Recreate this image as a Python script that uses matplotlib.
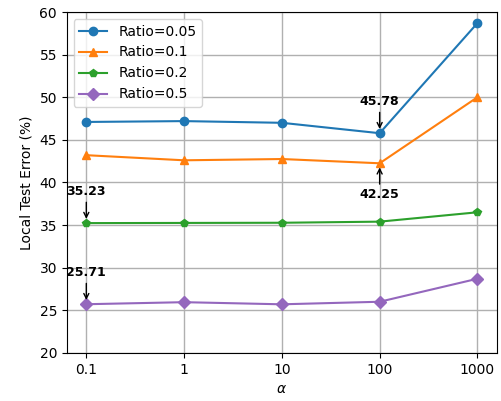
import matplotlib
matplotlib.use("Agg")
import matplotlib.pyplot as plt

alphas = [0.1, 1, 10, 100, 1000]
tick_labels = ["0.1", "1", "10", "100", "1000"]
r005 = [47.1, 47.2, 47.0, 45.78, 58.7]
r01 = [43.2, 42.6, 42.75, 42.25, 50.0]
r02 = [35.23, 35.25, 35.27, 35.4, 36.5]
r05 = [25.71, 25.95, 25.7, 26.0, 28.7]

fig, ax = plt.subplots(figsize=(5.02, 4.01), dpi=100)
ax.plot(alphas, r005, marker='o', color='#1f77b4', label='Ratio=0.05')
ax.plot(alphas, r01, marker='^', color='#ff7f0e', label='Ratio=0.1')
ax.plot(alphas, r02, marker='p', color='#2ca02c', label='Ratio=0.2')
ax.plot(alphas, r05, marker='D', color='#9467bd', label='Ratio=0.5')
ax.set_xscale('log')
ax.set_xticks(alphas)
ax.set_xticklabels(tick_labels)
ax.minorticks_off()
ax.set_ylim(20, 60)
ax.set_yticks(range(20, 61, 5))
ax.grid(True, linewidth=1)
ax.set_xlabel(r'$\alpha$')
ax.set_ylabel('Local Test Error (%)')
ax.legend(loc='upper left')

def ann(x, y, dy, va):
    ax.annotate(f"{y:.2f}", xy=(x, y), xytext=(0, dy), textcoords='offset points',
                ha='center', va=va, fontsize=9, fontweight='bold',
                arrowprops=dict(arrowstyle='->', color='black', shrinkA=1, shrinkB=3))

ann(100, r005[3], 18, 'bottom')
ann(100, r01[3], -18, 'top')
ann(0.1, r02[0], 18, 'bottom')
ann(0.1, r05[0], 18, 'bottom')

fig.subplots_adjust(left=0.133, right=0.990, top=0.970, bottom=0.120)
fig.savefig('out.png', dpi=100)
